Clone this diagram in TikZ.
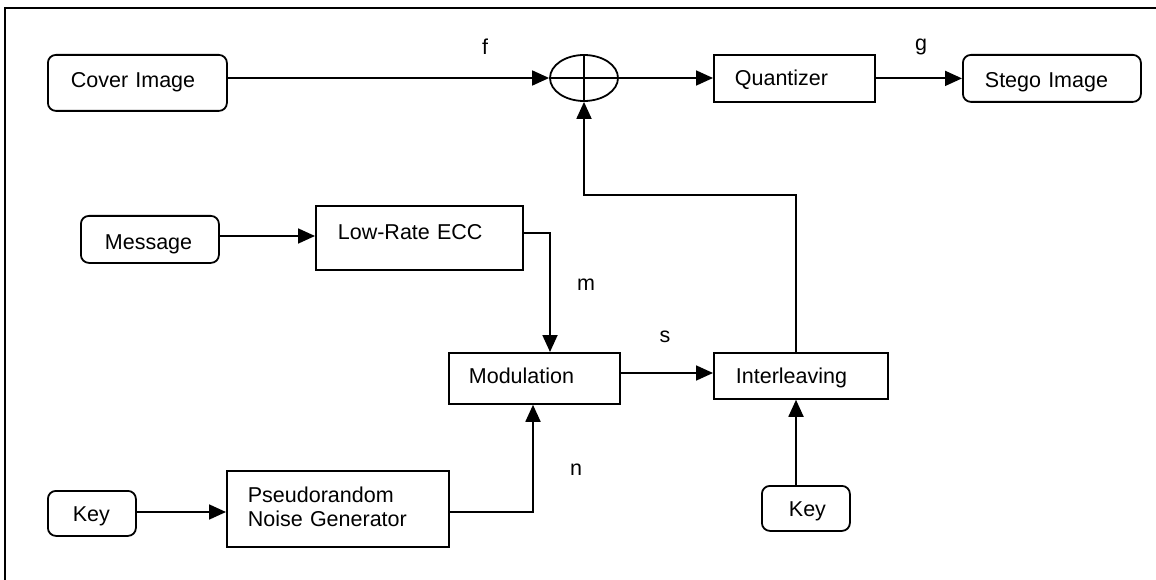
\documentclass[tikz,border=0pt]{standalone}
\usepackage{fontspec}
\setmainfont{Liberation Sans}
\usetikzlibrary{arrows.meta,shapes.geometric}
\begin{document}
\begin{tikzpicture}[x=1pt,y=1pt,
  every node/.style={font=\fontsize{21.5}{24}\selectfont},
  blk/.style={draw, line width=1.8pt, align=left, inner ysep=0pt, anchor=north west},
  rblk/.style={blk, rounded corners=8pt},
  conn/.style={line width=1.8pt},
  arr/.style={conn, -{Triangle[length=17pt,width=15pt]}},
  lbl/.style={inner sep=0pt}
]
\useasboundingbox (0,0) rectangle (1156,-580);
\draw[line width=2.4pt] (5,-580) -- (5,-8) -- (1160,-8);

% boxes
\node[rblk, inner xsep=23pt, text width=133pt, text height=33pt, text depth=23pt] (cover) at (47,-54) {Cover Image};
\node[blk, inner xsep=21pt, text width=119pt, text height=31pt, text depth=16pt] (quant) at (713,-54) {Quantizer};
\node[rblk, inner xsep=22pt, text width=134pt, text height=33pt, text depth=14pt] (stego) at (962,-54) {Stego Image};
\node[rblk, inner xsep=24pt, text width=90pt, text height=34pt, text depth=13pt] (msg) at (80,-215) {Message};
\node[blk, inner xsep=22pt, text width=163pt, text height=34pt, text depth=30pt] (ecc) at (315,-205) {Low-Rate ECC};
\node[blk, inner xsep=20pt, text width=131pt, text height=31pt, text depth=20pt] (mod) at (448,-352) {Modulation};
\node[blk, inner xsep=22pt, text width=130pt, text height=31pt, text depth=15pt] (inter) at (713,-352) {Interleaving};
\node[rblk, inner xsep=27pt, text width=34pt, text height=31pt, text depth=14pt] (key2) at (761,-485) {Key};
\node[blk, inner xsep=21pt, text width=180pt, text height=32pt, text depth=44pt] (prng) at (226,-470) {Pseudorandom\\Noise Generator};
\node[rblk, inner xsep=25pt, text width=38pt, text height=31pt, text depth=14pt] (key1) at (47,-490) {Key};

% adder
\node[draw, ellipse, line width=1.8pt, minimum width=68pt, minimum height=46pt, inner sep=0pt] (sum) at (584,-78) {};
\draw[conn] (sum.north) -- (sum.south);
\draw[conn] (sum.west) -- (sum.east);

% labels
\node[lbl] (lf) at (485,-47) {f};
\node[lbl] (lg) at (921,-47) {g};
\node[lbl] (lm) at (586,-285) {m};
\node[lbl] (ls) at (665,-337) {s};
\node[lbl] (ln) at (576,-470) {n};

% connectors
\draw[arr] (cover.east |- sum.west) -- (sum.west);
\draw[arr] (sum.east) -- (quant.west |- sum.east);
\draw[arr] (quant.east) -- (stego.west);
\draw[arr] (msg.east |- 0,-236) -- (ecc.west |- 0,-236);
\coordinate (eccc) at (550,-233);
\draw[arr] (ecc.east |- eccc) -- (eccc) -- (eccc |- mod.north);
\draw[arr] (mod.east |- 0,-373) -- (inter.west |- 0,-373);
\coordinate (ic) at (796,-195);
\draw[arr] (ic |- key2.north) -- (ic |- inter.south);
\draw[arr] (ic |- inter.north) -- (ic) -- (sum.south |- ic) -- (sum.south);
\coordinate (pc) at (533,-512);
\draw[arr] (prng.east |- pc) -- (pc) -- (pc |- mod.south);
\draw[arr] (key1.east |- pc) -- (prng.west |- pc);
\end{tikzpicture}
\end{document}
